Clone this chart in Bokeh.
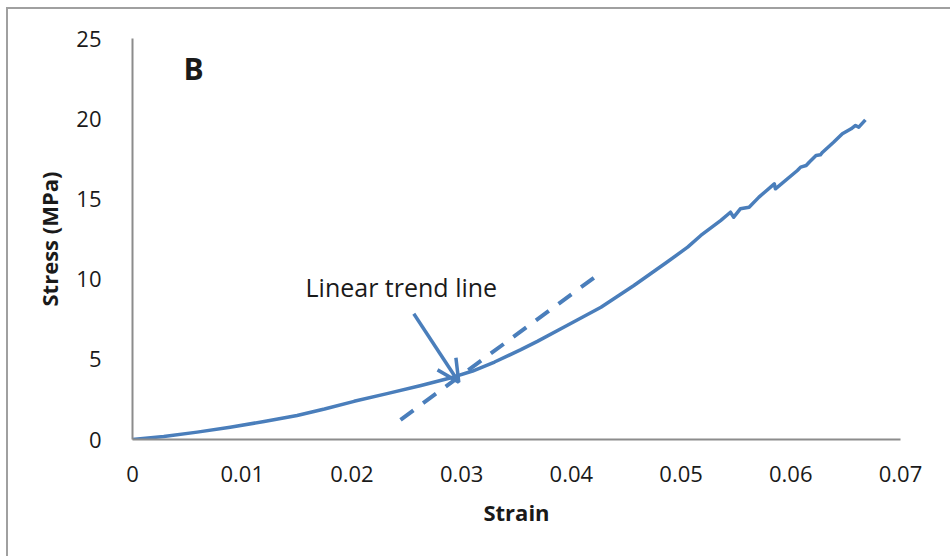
from bokeh.plotting import figure
from bokeh.models import Range1d, FixedTicker, Arrow, OpenHead, Label
from bokeh.embed import file_html
from bokeh.resources import INLINE

# ---- data ----
strain = [0.0, 0.00285, 0.0059, 0.0089, 0.0120, 0.0150, 0.0175, 0.0202,
          0.0232, 0.0263, 0.0293, 0.0310, 0.0330, 0.0354, 0.0369, 0.0396,
          0.0427, 0.0457, 0.0487, 0.0506, 0.0518, 0.0536, 0.0545, 0.0548,
          0.0554, 0.0562, 0.0571, 0.0585, 0.0586, 0.0606, 0.0609, 0.0614,
          0.0617, 0.0623, 0.0627, 0.0629, 0.0639, 0.0647, 0.0655, 0.0659,
          0.0662, 0.0668]
stress = [0.0, 0.19, 0.46, 0.77, 1.12, 1.50, 1.90, 2.38,
          2.86, 3.37, 3.90, 4.27, 4.83, 5.60, 6.12, 7.11,
          8.25, 9.60, 11.05, 11.99, 12.72, 13.65, 14.17, 13.86,
          14.38, 14.48, 15.11, 15.94, 15.63, 16.77, 16.98, 17.08,
          17.30, 17.71, 17.75, 17.91, 18.53, 19.06, 19.37, 19.58,
          19.47, 19.93]

trend_strain = [0.02443, 0.04205]
trend_stress = [1.23, 10.08]

arrow_start = [0.02564, 7.84]
arrow_end = [0.02974, 3.57]

x_ticks = [0.0, 0.01, 0.02, 0.03, 0.04, 0.05, 0.06, 0.07]
x_tick_labels = ["0", "0.01", "0.02", "0.03", "0.04", "0.05", "0.06", "0.07"]
y_ticks = [0, 5, 10, 15, 20, 25]

panel_label = "B"
panel_label_pos = [0.00465, 23.1]
note_text = "Linear trend line"
note_pos = [0.01577, 9.5]

# ---- figure ----
BLUE = "#4a7ebb"
AXIS = "#8c8c8c"
TEXT = "#1a1a1a"

p = figure(width=944, height=549, output_backend="svg", toolbar_location=None,
           x_range=Range1d(0, 0.07), y_range=Range1d(0, 25),
           min_border_left=124, min_border_right=52,
           min_border_top=29, min_border_bottom=119)
p.styles = {"margin-left": "6px", "margin-top": "7px",
            "border-left": "2px solid #a0a0a0", "border-top": "2px solid #a0a0a0"}
p.outline_line_color = None
p.grid.visible = False
p.background_fill_color = "white"
p.border_fill_color = "white"

p.xaxis.ticker = FixedTicker(ticks=x_ticks)
p.xaxis.major_label_overrides = {t: l for t, l in zip(x_ticks, x_tick_labels)}
p.yaxis.ticker = FixedTicker(ticks=y_ticks)

for ax in (p.xaxis, p.yaxis):
    ax.axis_line_color = AXIS
    ax.axis_line_width = 2
    ax.major_tick_line_color = None
    ax.minor_tick_line_color = None
    ax.major_label_text_font = "Open Sans"
    ax.major_label_text_font_size = "22px"
    ax.major_label_text_color = TEXT
    ax.axis_label_text_font = "Open Sans"
    ax.axis_label_text_font_size = "22px"
    ax.axis_label_text_font_style = "bold"
    ax.axis_label_text_color = TEXT

p.xaxis.axis_label = "Strain"
p.yaxis.axis_label = "Stress (MPa)"
p.xaxis.major_label_standoff = 20
p.xaxis.axis_label_standoff = 12
p.yaxis.major_label_standoff = 25
p.yaxis.axis_label_standoff = 9

p.line(strain, stress, line_color=BLUE, line_width=3.5, line_join="round")
p.line(trend_strain, trend_stress, line_color=BLUE, line_width=4,
       line_dash="16 12")

p.add_layout(Arrow(end=OpenHead(size=22, line_color=BLUE, line_width=3.5),
                   x_start=arrow_start[0], y_start=arrow_start[1],
                   x_end=arrow_end[0], y_end=arrow_end[1],
                   line_color=BLUE, line_width=3.5))

p.add_layout(Label(x=note_pos[0], y=note_pos[1], text=note_text,
                   text_font="Open Sans", text_font_size="25px",
                   text_color=TEXT, text_baseline="alphabetic"))
p.add_layout(Label(x=panel_label_pos[0], y=panel_label_pos[1], text=panel_label,
                   text_font="Open Sans", text_font_size="30px",
                   text_font_style="bold", text_color=TEXT,
                   text_baseline="alphabetic"))

open("out.html", "w").write(file_html(p, INLINE))
